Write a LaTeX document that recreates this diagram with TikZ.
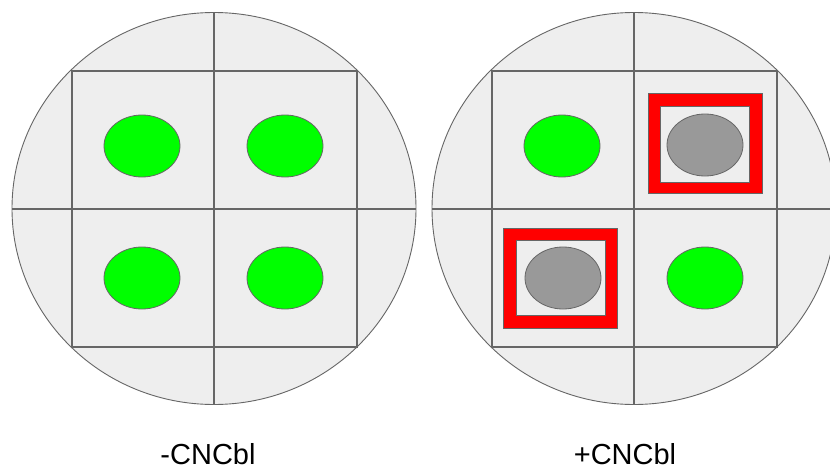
\documentclass[tikz,border=0pt]{standalone}
\usepackage{fontspec}
\setmainfont{Liberation Sans}
\usetikzlibrary{shapes.geometric}
\definecolor{plate}{HTML}{EEEEEE}
\definecolor{edge}{HTML}{666666}
\definecolor{grn}{HTML}{00FF00}
\definecolor{dead}{HTML}{999999}
\tikzset{
  platestyle/.style={draw=edge, fill=plate, line width=0.9pt},
  gridline/.style={draw=edge, line width=1.3pt},
  colony/.style={ellipse, draw=edge, line width=0.8pt, minimum width=76pt, minimum height=62pt, inner sep=0pt},
  live/.style={colony, fill=grn},
  deadc/.style={colony, fill=dead},
  frameout/.style={draw=edge, fill=red, line width=0.7pt},
  framein/.style={draw=edge, fill=plate, line width=0.7pt},
  lbl/.style={font=\fontsize{29}{34}\selectfont, anchor=base, inner sep=0pt}
}
\begin{document}
\begin{tikzpicture}[x={(1pt,0)}, y={(0,-1pt)}]
\useasboundingbox (0,0) rectangle (830,471);
\clip (0,0) rectangle (830,471);
\fill[white] (0,0) rectangle (830,471);
% left plate
\draw[platestyle] (214,208.5) ellipse [x radius=202pt, y radius=196pt];
\draw[gridline] (214,12.5) -- (214,404.5);
\draw[gridline] (12,209) -- (416,209);
\draw[gridline] (72,71) rectangle (357,347);
\node[live] (l1) at (142,146) {};
\node[live] (l2) at (285,146) {};
\node[live] (l3) at (142,278) {};
\node[live] (l4) at (285,278) {};
% right plate
\draw[platestyle] (634,208.5) ellipse [x radius=202pt, y radius=196pt];
\draw[gridline] (634,12.5) -- (634,404.5);
\draw[gridline] (432,209) -- (836,209);
\draw[gridline] (492,71) rectangle (777,347);
\draw[frameout] (648,93) rectangle (762,193);
\draw[framein] (660,106) rectangle (749,182);
\draw[frameout] (503,228) rectangle (617,328);
\draw[framein] (516,240) rectangle (605,315);
\node[live] (r1) at (562,146) {};
\node[deadc] (r2) at (705,145) {};
\node[deadc] (r3) at (563,278) {};
\node[live] (r4) at (705,278) {};
% labels
\node[lbl] (minus) at (208,464) {-CNCbl};
\node[lbl] (plus) at (625,464) {+CNCbl};
\end{tikzpicture}
\end{document}
